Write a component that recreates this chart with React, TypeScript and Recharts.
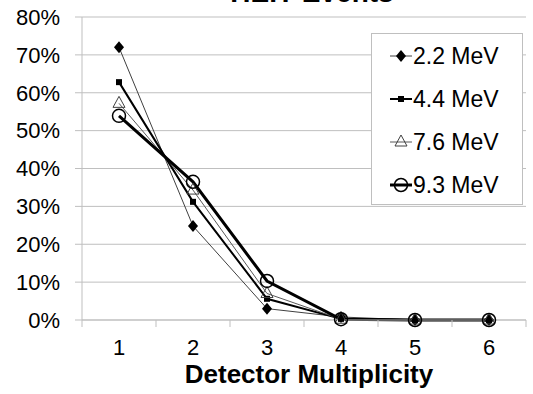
import React from 'react'
import {
  LineChart,
  Line,
  XAxis,
  YAxis,
  CartesianGrid,
  Label,
} from 'recharts'

const multiplicity = [1, 2, 3, 4, 5, 6]
const mev22 = [0.72, 0.248, 0.03, 0.008, 0, 0]
const mev44 = [0.628, 0.312, 0.056, 0.003, 0, 0]
const mev76 = [0.572, 0.343, 0.07, 0.002, 0, 0]
const mev93 = [0.539, 0.365, 0.103, 0.002, 0, 0]
const yTicks = [0, 0.1, 0.2, 0.3, 0.4, 0.5, 0.6, 0.7, 0.8]
const xTicks = [0.5, 1, 1.5, 2, 2.5, 3, 3.5, 4, 4.5, 5, 5.5, 6, 6.5]

const data = multiplicity.map((m, i) => ({
  m,
  a: mev22[i],
  b: mev44[i],
  c: mev76[i],
  d: mev93[i],
}))

const FONT = '"Liberation Sans", Arial, sans-serif'
const GRID = '#BFBFBF'

type Kind = 'diamond' | 'square' | 'triangle' | 'circle'

function Marker({ kind, cx, cy }: { kind: Kind; cx: number; cy: number }) {
  if (kind === 'diamond')
    return (
      <polygon
        points={`${cx},${cy - 6} ${cx + 5},${cy} ${cx},${cy + 6} ${cx - 5},${cy}`}
        fill="#000"
      />
    )
  if (kind === 'square')
    return <rect x={cx - 3} y={cy - 3} width={6} height={6} fill="#000" />
  if (kind === 'triangle')
    return (
      <polygon
        points={`${cx},${cy - 7} ${cx + 6},${cy + 4} ${cx - 6},${cy + 4}`}
        fill="none"
        stroke="#404040"
        strokeWidth={1}
      />
    )
  return <circle cx={cx} cy={cy} r={6.5} fill="none" stroke="#000" strokeWidth={1.5} />
}

const dotOf = (kind: Kind) => (props: any) => {
  const { cx, cy, index } = props
  if (cx == null || cy == null) return <g key={index} />
  return (
    <g key={`${kind}-${index}`}>
      <Marker kind={kind} cx={cx} cy={cy} />
    </g>
  )
}

const series = [
  { key: 'a', name: '2.2 MeV', color: '#404040', width: 1, kind: 'diamond' as Kind },
  { key: 'b', name: '4.4 MeV', color: '#000', width: 2, kind: 'square' as Kind },
  { key: 'c', name: '7.6 MeV', color: '#595959', width: 1, kind: 'triangle' as Kind },
  { key: 'd', name: '9.3 MeV', color: '#000', width: 3, kind: 'circle' as Kind },
]

function XTick(props: any) {
  const { x, y, payload } = props
  const v = payload.value
  if (Number.isInteger(v)) {
    return (
      <text x={x} y={y + 35} textAnchor="middle" fill="#000" fontSize={22} fontFamily={FONT}>
        {v}
      </text>
    )
  }
  return <line x1={x} x2={x} y1={y} y2={y + 7} stroke={GRID} />
}

export default function App() {
  return (
    <div
      style={{
        position: 'absolute',
        left: 0,
        top: 0,
        width: 533,
        height: 394,
        overflow: 'hidden',
        background: '#fff',
        fontFamily: FONT,
      }}
    >
      <div
        style={{
          position: 'absolute',
          top: -21,
          left: 0,
          width: 624,
          textAlign: 'center',
          fontSize: 28,
          lineHeight: '28px',
          fontWeight: 'bold',
        }}
      >
        HEIT Events
      </div>

      <LineChart
        width={533}
        height={394}
        data={data}
        margin={{ top: 17, right: 7, left: 0, bottom: 0 }}
        style={{ fontFamily: FONT }}
      >
        <CartesianGrid vertical={false} stroke={GRID} />
        <XAxis
          dataKey="m"
          type="number"
          domain={[0.5, 6.5]}
          ticks={xTicks}
          interval={0}
          height={74}
          tick={<XTick />}
          tickLine={false}
          tickSize={0}
          tickMargin={0}
          axisLine={{ stroke: GRID }}
        >
          <Label
            value="Detector Multiplicity"
            position="insideBottom"
            offset={11}
            dx={5}
            fill="#000"
            fontSize={26}
            fontWeight="bold"
            fontFamily={FONT}
          />
        </XAxis>
        <YAxis
          domain={[0, 0.8]}
          ticks={yTicks}
          interval={0}
          width={82}
          tickFormatter={(v: number) => `${Math.round(v * 100)}%`}
          tick={{ fill: '#000', fontSize: 22, fontFamily: FONT }}
          tickSize={7}
          tickMargin={15}
          tickLine={{ stroke: GRID }}
          axisLine={{ stroke: GRID }}
        />
        {series.map((s) => (
          <Line
            key={s.key}
            type="linear"
            dataKey={s.key}
            name={s.name}
            stroke={s.color}
            strokeWidth={s.width}
            dot={dotOf(s.kind)}
            activeDot={false}
            isAnimationActive={false}
          />
        ))}
      </LineChart>

      {/* Legenda */}
      <div
        style={{
          position: 'absolute',
          left: 371,
          top: 33,
          width: 150,
          height: 170,
          border: `1px solid ${GRID}`,
          background: '#fff',
        }}
      >
        {series.map((s, i) => (
          <div
            key={s.key}
            style={{
              position: 'absolute',
              left: 17,
              top: 22 + i * 43 - 14,
              height: 28,
              display: 'flex',
              alignItems: 'center',
              fontSize: 23,
              color: '#000',
              whiteSpace: 'nowrap',
            }}
          >
            <svg width={24} height={28} style={{ display: 'block' }}>
              <line x1={1} x2={23} y1={14} y2={14} stroke={s.color} strokeWidth={s.width} />
              <Marker kind={s.kind} cx={12} cy={14} />
            </svg>
            <span>{s.name}</span>
          </div>
        ))}
      </div>
    </div>
  )
}
